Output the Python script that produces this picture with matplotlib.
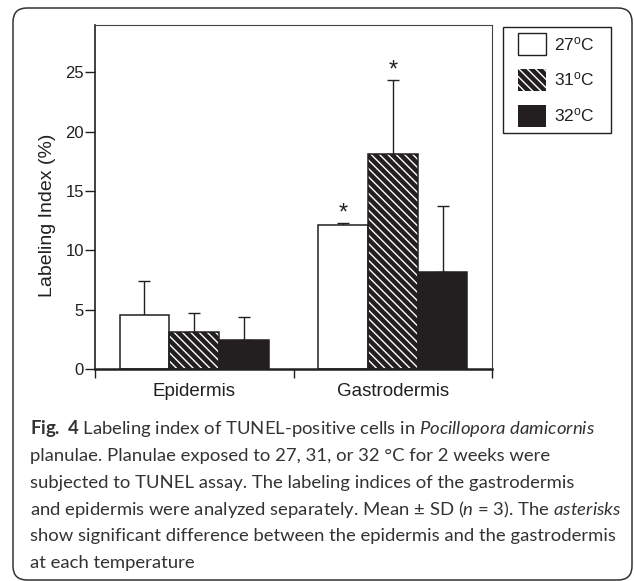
import matplotlib
matplotlib.use('Agg')
import matplotlib.pyplot as plt
import matplotlib.patches as mpatches
import matplotlib.transforms as mtransforms
from matplotlib.legend_handler import HandlerPatch
import numpy as np

# ---------------- data ----------------
groups = ['Epidermis', 'Gastrodermis']
temps = ['27', '31', '32']
mean_27 = [4.52, 12.18]
sd_27 = [2.86, 0.14]
mean_31 = [3.09, 18.10]
sd_31 = [1.60, 6.29]
mean_32 = [2.42, 8.19]
sd_32 = [1.96, 5.56]
sig_27 = [False, True]
sig_31 = [False, True]
sig_32 = [False, False]
yticks = [0, 5, 10, 15, 20, 25]

caption_lines = [
    r"$\mathbf{Fig.\ 4}$ Labeling index of TUNEL-positive cells in $\mathit{Pocillopora\ damicornis}$",
    "planulae. Planulae exposed to 27, 31, or 32 \u00b0C for 2 weeks were",
    "subjected to TUNEL assay. The labeling indices of the gastrodermis",
    r"and epidermis were analyzed separately. Mean $\pm$ SD ($\mathit{n}$ = 3). The $\mathit{asterisks}$",
    "show significant difference between the epidermis and the gastrodermis",
    "at each temperature",
]

# ---------------- style ----------------
BLACK = '#231f20'
CAP_FONT = 'Lato'
plt.rcParams['font.family'] = ['Liberation Sans', 'DejaVu Sans']
plt.rcParams['mathtext.fontset'] = 'custom'
plt.rcParams['mathtext.rm'] = CAP_FONT
plt.rcParams['mathtext.it'] = CAP_FONT + ':italic'
plt.rcParams['mathtext.bf'] = CAP_FONT + ':bold'
plt.rcParams['mathtext.sf'] = 'Liberation Sans'
plt.rcParams['hatch.color'] = 'white'
plt.rcParams['hatch.linewidth'] = 1.0

W, H = 634, 581
fig = plt.figure(figsize=(W / 100, H / 100), dpi=100)
ax = fig.add_axes([95 / W, 1 - 369 / H, 397 / W, 344 / H])

x = np.arange(len(groups))
w = 0.251
offsets = [-w, 0.0, w]
means = [mean_27, mean_31, mean_32]
sds = [sd_27, sd_31, sd_32]
sigs = [sig_27, sig_31, sig_32]
fills = [dict(facecolor='white'),
         dict(facecolor=BLACK, hatch='\\\\\\\\'),
         dict(facecolor=BLACK)]

for i in range(3):
    xs = x + offsets[i]
    m = np.array(means[i])
    s = np.array(sds[i])
    ax.errorbar(xs, m, yerr=[np.zeros_like(s), s], fmt='none', ecolor=BLACK,
                elinewidth=1.0, capsize=4, capthick=1.0, zorder=1)
    ax.bar(xs, m, w, linewidth=0, zorder=2, **fills[i])
    ax.bar(xs, m, w, fill=False, edgecolor=BLACK, linewidth=1.1, zorder=3)
    for j in range(len(groups)):
        if sigs[i][j]:
            ax.annotate('*', xy=(xs[j], m[j] + s[j]), xytext=(0, 2.5),
                        textcoords='offset points', ha='center', va='baseline',
                        fontsize=17, color=BLACK)

ax.set_xlim(-0.5, 1.5)
ax.set_ylim(0, 29)
ax.set_yticks(yticks)
ax.set_xticks([-0.5, 0.5, 1.5])
ax.set_xticklabels([])
ax.set_xticks(x, minor=True)
ax.set_xticklabels(groups, minor=True, fontsize=13.5, color=BLACK)
ax.tick_params(axis='x', which='major', direction='out', length=6.5, width=1.0, color=BLACK)
ax.tick_params(axis='x', which='minor', length=0, pad=10)
ax.tick_params(axis='y', direction='out', length=7, width=1.0, pad=1,
               labelsize=12, color=BLACK, labelcolor=BLACK)
for side in ['top', 'right']:
    ax.spines[side].set_linewidth(0.8)
    ax.spines[side].set_color('#444444')
ax.spines['left'].set_linewidth(1.2)
ax.spines['left'].set_color(BLACK)
ax.spines['bottom'].set_linewidth(1.8)
ax.spines['bottom'].set_color(BLACK)

ax.set_ylabel('Labeling Index (%)', fontsize=14, color=BLACK)
ax.yaxis.set_label_coords(-0.097, 0.448)

# ---------------- legend ----------------
fs_leg = 12.5
pad_pt = 8.4 * 72 / 100
patch_w_pt = 27.4 * 72 / 100


def make_patch(legend, orig_handle, xdescent, ydescent, width, height, fontsize):
    return mpatches.Rectangle((-xdescent + pad_pt, -ydescent), width - pad_pt, height)


handles = [
    mpatches.Patch(facecolor='white', edgecolor=BLACK, linewidth=1.0),
    mpatches.Patch(facecolor=BLACK, hatch='\\\\\\\\'),
    mpatches.Patch(facecolor=BLACK),
]
labels = [t + r'$^{\mathsf{o}}$C' for t in temps]
leg = fig.legend(handles, labels, loc='upper left',
                 bbox_to_anchor=(503.3 / W, 1 - 149.3 / H, 107.7 / W, 122.6 / H),
                 mode='expand', borderaxespad=0, fontsize=fs_leg,
                 handlelength=(patch_w_pt + pad_pt) / fs_leg,
                 handleheight=patch_w_pt / fs_leg,
                 handletextpad=0.45, labelspacing=13.6 * 0.72 / fs_leg,
                 borderpad=6.6 * 0.72 / fs_leg,
                 frameon=True, fancybox=False, framealpha=1,
                 handler_map={mpatches.Patch: HandlerPatch(patch_func=make_patch)})
leg.get_frame().set_edgecolor(BLACK)
leg.get_frame().set_linewidth(1.0)
for t in leg.get_texts():
    t.set_color(BLACK)

# ---------------- caption box ----------------
box = mpatches.FancyBboxPatch((13, 1), 619, 572,
                              boxstyle='round,pad=0,rounding_size=14',
                              transform=mtransforms.IdentityTransform(),
                              facecolor='none', edgecolor='#333333', linewidth=1.1,
                              clip_on=False)
fig.add_artist(box)

baselines = [434, 461, 488, 514.5, 541, 568]
for line, b in zip(caption_lines, baselines):
    fig.text(30 / W, 1 - b / H, line, fontsize=13.3, family=CAP_FONT,
             color='#333333', va='baseline', ha='left')

fig.savefig('out.png', dpi=100)
